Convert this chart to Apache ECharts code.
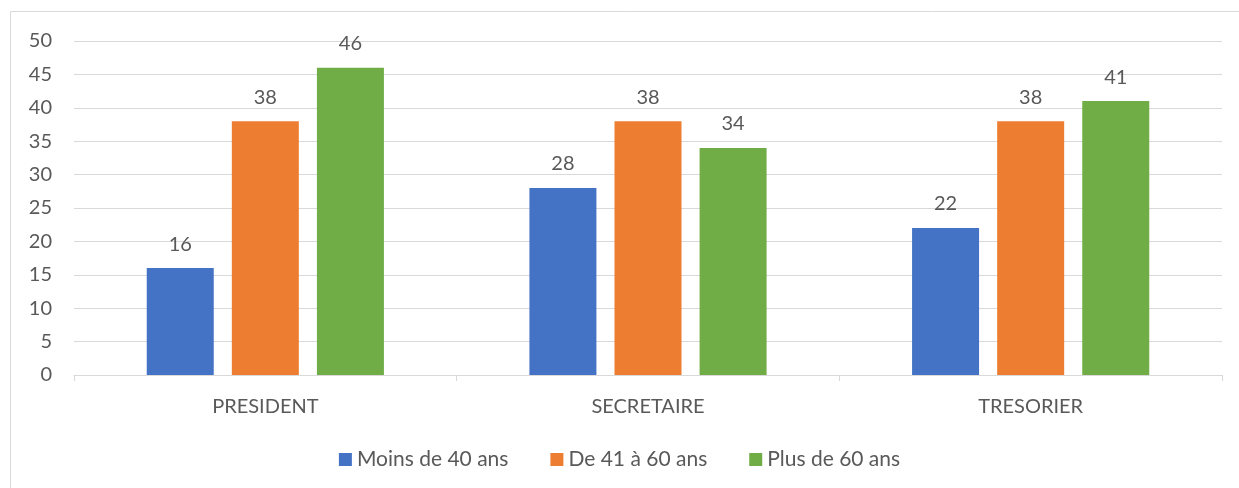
<!DOCTYPE html>
<html>
<head>
<meta charset="utf-8">
<script src="https://cdn.jsdelivr.net/npm/echarts@6/dist/echarts.min.js"></script>
<style>
  html, body { margin: 0; padding: 0; background: #fff; }
  #chart { width: 1239px; height: 488px; }
</style>
</head>
<body>
<div id="chart"></div>
<script>
// categories & series
const categories = ["PRESIDENT", "SECRETAIRE", "TRESORIER"];
const seriesNames = ["Moins de 40 ans", "De 41 à 60 ans", "Plus de 60 ans"];
const moins40 = [16, 28, 22];
const de41a60 = [38, 38, 38];
const plus60 = [46, 34, 41];
const colors = ["#4472C4", "#ED7D31", "#70AD47"];

const font = "Lato, 'Open Sans', sans-serif";
const txt = "#595959";

const chart = echarts.init(document.getElementById("chart"));

const mkSeries = (name, data, i) => ({
  name: name,
  type: "bar",
  data: data,
  barWidth: 67,
  barGap: "27%",
  itemStyle: { color: colors[i] },
  label: {
    show: true,
    position: "top",
    distance: 14,
    color: txt,
    fontFamily: font,
    fontSize: 20
  }
});

chart.setOption({
  animation: false,
  graphic: [{
    type: "rect",
    shape: { x: 10.5, y: 11.5, width: 1240, height: 490 },
    style: { fill: null, stroke: "#d9d9d9", lineWidth: 1 },
    silent: true
  }],
  grid: { left: 74, right: 17, top: 41, bottom: 113 },
  legend: {
    data: seriesNames,
    bottom: 13,
    left: "center",
    itemWidth: 13,
    itemHeight: 13,
    itemGap: 42,
    icon: "rect",
    textStyle: { color: txt, fontFamily: font, fontSize: 21 }
  },
  xAxis: {
    type: "category",
    data: categories,
    axisLine: { lineStyle: { color: "#d9d9d9", width: 1 } },
    axisTick: { show: true, length: 6, lineStyle: { color: "#d9d9d9" } },
    axisLabel: { color: txt, fontFamily: font, fontSize: 20, margin: 22 }
  },
  yAxis: {
    type: "value",
    min: 0,
    max: 50,
    interval: 5,
    axisLine: { show: false },
    axisTick: { show: false },
    splitLine: { lineStyle: { color: "#d9d9d9", width: 1 } },
    axisLabel: { color: txt, fontFamily: font, fontSize: 20, margin: 22 }
  },
  series: [
    mkSeries(seriesNames[0], moins40, 0),
    mkSeries(seriesNames[1], de41a60, 1),
    mkSeries(seriesNames[2], plus60, 2)
  ]
});
</script>
</body>
</html>
